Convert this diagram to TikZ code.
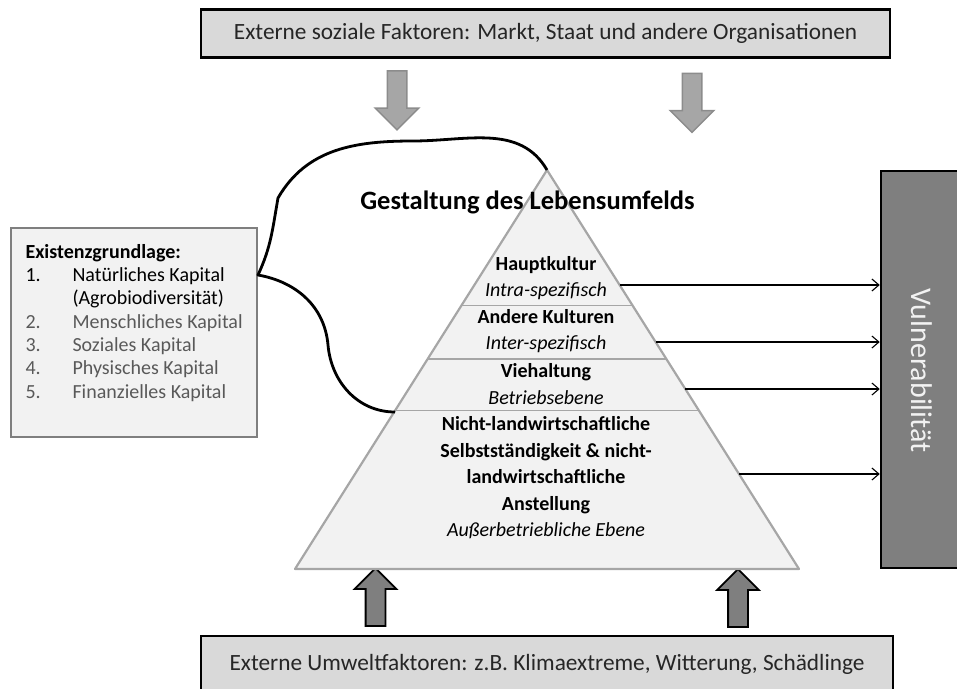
\documentclass[tikz,border=0pt]{standalone}
\usepackage{fontspec}
\setmainfont{Carlito}
\usetikzlibrary{shapes.arrows,arrows.meta,calc}

\definecolor{boxgrau}{HTML}{D9D9D9}
\definecolor{flaeche}{HTML}{F2F2F2}
\definecolor{linie}{HTML}{A6A6A6}
\definecolor{pfeilrand}{HTML}{8C8C8C}
\definecolor{dunkel}{HTML}{7F7F7F}
\definecolor{textgrau}{HTML}{595959}

\begin{document}
\begin{tikzpicture}[x=1pt, y=-1pt,
	faktor/.style={draw=black, fill=boxgrau, line width=2.5pt, inner sep=0pt, font=\fontsize{23.3}{27}\selectfont, text=black!85},
	blockpfeil/.style={single arrow, minimum height=59, minimum width=0pt, inner sep=0pt, inner ysep=9pt, single arrow head extend=12pt},
	ebene/.style={align=center, font=\fontsize{20}{26.5}\selectfont},
	pfeil/.style={-{Straight Barb[length=7pt,width=12pt]}, line width=1.1pt},
	liste/.style={anchor=base west, font=\fontsize{20}{24}\selectfont}]
	\useasboundingbox (0,0) rectangle (957,688); % Rand der Grafik
	
	% Kasten oben und unten
	\node[faktor, minimum width=689, minimum height=48] (sozial) at (545.5,33.5) {Externe soziale Faktoren: Markt, Staat und andere Organisationen};
	\node[faktor, minimum width=692, minimum height=56] (umwelt) at (547,664) {Externe Umweltfaktoren: z.B. Klimaextreme, Witterung, Schädlinge};
	
	% Pfeile
	\node[blockpfeil, rotate=-90, fill=linie, draw=pfeilrand, line width=1.5pt] (oben1) at (397,95.5) {};
	\node[blockpfeil, rotate=-90, fill=linie, draw=pfeilrand, line width=1.5pt] (oben2) at (692,98) {};
	\node[blockpfeil, rotate=90, fill=dunkel, draw=black, line width=1.8pt, minimum height=58, single arrow head extend=11pt] (unten1) at (375.5,602) {};
	\node[blockpfeil, rotate=90, fill=dunkel, draw=black, line width=1.8pt, minimum height=58, single arrow head extend=11pt] (unten2) at (738,603) {};
	
	% Pyramide
	\coordinate (spitze) at (547,170);
	\coordinate (links) at (295,569);
	\coordinate (rechts) at (799,569);
	\filldraw[fill=flaeche, draw=linie, line width=2.2pt, line join=round] (spitze) -- (links) -- (rechts) -- cycle;
	\foreach \t in {0.3396,0.4737,0.6028}
		\draw[linie, line width=1.3pt] ($(spitze)!\t!(links)$) -- ($(spitze)!\t!(rechts)$);
	
	\node[font=\fontsize{26.5}{30}\bfseries] (titel) at (527.5,202) {Gestaltung des Lebensumfelds};
	\node[ebene] (ebene1) at (546,278) {\textbf{Hauptkultur}\\\textit{Intra-spezifisch}};
	\node[ebene] (ebene2) at (546,331) {\textbf{Andere Kulturen}\\\textit{Inter-spezifisch}};
	\node[ebene] (ebene3) at (546,384) {\textbf{Viehaltung}\\\textit{Betriebsebene}};
	\node[ebene] (ebene4) at (546,478) {\textbf{Nicht-landwirtschaftliche}\\\textbf{Selbstständigkeit \& nicht-}\\\textbf{landwirtschaftliche}\\\textbf{Anstellung}\\\textit{Außerbetriebliche Ebene}};
	
	% Vulnerabilitaet
	\node[draw=black, fill=dunkel, line width=2.5pt, minimum width=78, minimum height=397, inner sep=0pt] (vul) at (920,369.5) {};
	\node[rotate=-90, text=white!95!black, font=\fontsize{30}{34}\selectfont] (vultext) at (922,370.5) {Vulnerabilität};
	
	\foreach \t [count=\i] in {0.2882,0.4311,0.5489,0.7619}{
		\coordinate (r\i) at ($(spitze)!\t!(rechts)$);
		\draw[pfeil] (r\i) -- (r\i -| vul.west);
	}
	
	% Existenzgrundlage
	\node[draw=dunkel, fill=flaeche, line width=2pt, minimum width=246, minimum height=209] (basis) at (134,332.5) {};
	\node[liste, font=\fontsize{20}{24}\bfseries] (kopf) at (22,258) {Existenzgrundlage:};
	\node[liste] (nr1) at (22,281.4) {1.};
	\node[liste] (kap1) at (69,281.4) {Natürliches Kapital};
	\node[liste] (kap1b) at (69,304.6) {(Agrobiodiversität)};
	\foreach \nr/\txt [count=\i] in {2/Menschliches Kapital,3/Soziales Kapital,4/Physisches Kapital,5/Finanzielles Kapital}{
		\node[liste, text=textgrau] (nr\nr) at (22,328+23.4*\i-23.4) {\nr.};
		\node[liste, text=textgrau] (kap\nr) at (69,328+23.4*\i-23.4) {\txt};
	}
	
	% Klammer
	\coordinate (klammer) at (258,275);
	\coordinate (ende) at (395,412);
	\draw[line width=2.8pt, line join=round] (spitze) to[out=120,in=0] (413,141) to[out=180,in=60] (278,198) to[out=-100,in=65] (klammer) to[out=-10,in=95] (328,345) to[out=-85,in=180] (ende);
\end{tikzpicture}
\end{document}
